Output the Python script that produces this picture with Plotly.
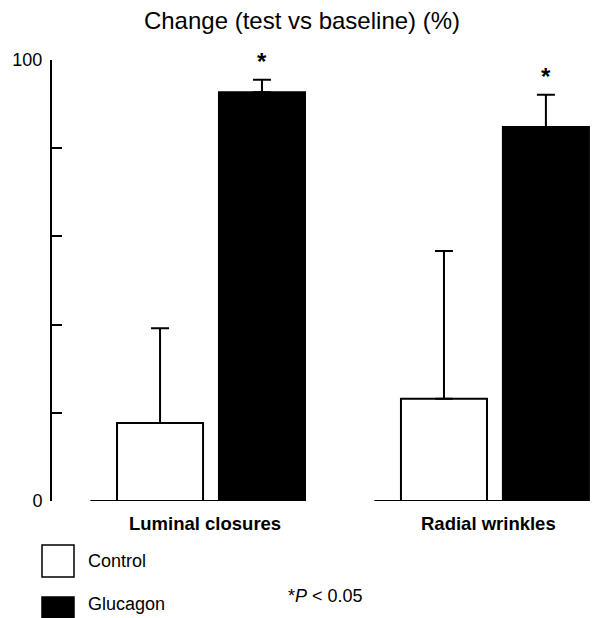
import plotly.graph_objects as go

categories = ["Luminal closures", "Radial wrinkles"]
control = [17.7, 23.2]
control_err = [21.5, 33.5]
glucagon = [92.7, 84.8]
glucagon_err = [2.8, 7.3]
yticks = [0, 20, 40, 60, 80, 100]
ytick_labels = ["0", "", "", "", "", "100"]

FONT = "Liberation Sans, Arial, sans-serif"
xpos = list(range(len(categories)))
BW = 0.303

# the page body has an 8px margin; the figure is sized/positioned to compensate
OFF = 8
W, H = 600 - OFF, 618 - OFF

fig = go.Figure()
fig.add_trace(go.Bar(
    x=xpos, y=control, name="Control", width=BW, offset=-0.331,
    marker=dict(color="white", line=dict(color="black", width=2)),
    error_y=dict(type="data", symmetric=False, array=control_err,
                 arrayminus=[0] * len(control), color="black", thickness=2, width=9),
    showlegend=False,
))
fig.add_trace(go.Bar(
    x=xpos, y=glucagon, name="Glucagon", width=BW, offset=0.028,
    marker=dict(color="black", line=dict(color="black", width=2)),
    error_y=dict(type="data", symmetric=False, array=glucagon_err,
                 arrayminus=[0] * len(glucagon), color="black", thickness=2, width=9),
    showlegend=False,
))

shapes = []
for i in xpos:
    shapes.append(dict(type="line", xref="x", yref="y", x0=i - 0.425, x1=i + 0.33,
                       y0=0, y1=0, line=dict(color="black", width=2)))

annotations = []
for i in xpos:
    annotations.append(dict(x=i + 0.028 + BW / 2, y=glucagon[i] + glucagon_err[i],
                            xref="x", yref="y", text="<b>*</b>", showarrow=False,
                            yanchor="bottom", yshift=3,
                            font=dict(family=FONT, size=24, color="black")))

# category labels
for i, c in enumerate(categories):
    annotations.append(dict(x=i - 0.022, y=0, xref="x", yref="y", text="<b>%s</b>" % c,
                            showarrow=False, yanchor="middle", yshift=-22,
                            font=dict(family=FONT, size=18.5, color="black")))

# legend (custom), positions expressed relative to the plot area
def py(p):
    return (501 - p) / 441.0

def px(p):
    return (p - 52) / 548.0

shapes.append(dict(type="rect", xref="paper", yref="paper", x0=px(42), x1=px(74),
                   y0=py(577), y1=py(545), fillcolor="white",
                   line=dict(color="black", width=1.5)))
shapes.append(dict(type="rect", xref="paper", yref="paper", x0=px(42), x1=px(74),
                   y0=py(622), y1=py(597), fillcolor="black",
                   line=dict(color="black", width=1.5)))
annotations.append(dict(x=px(86), y=py(561), xref="paper", yref="paper", text="Control",
                        showarrow=False, xanchor="left", yanchor="middle",
                        font=dict(family=FONT, size=18, color="black")))
annotations.append(dict(x=px(86), y=py(604), xref="paper", yref="paper", text="Glucagon",
                        showarrow=False, xanchor="left", yanchor="middle",
                        font=dict(family=FONT, size=18, color="black")))
annotations.append(dict(x=px(286), y=py(596), xref="paper", yref="paper",
                        text="*<i>P</i> < 0.05",
                        showarrow=False, xanchor="left", yanchor="middle",
                        font=dict(family=FONT, size=18, color="black")))

fig.update_layout(
    width=W, height=H,
    margin=dict(l=52 - OFF, r=0, t=60 - OFF, b=618 - 501, pad=0),
    plot_bgcolor="white", paper_bgcolor="white",
    title=dict(text="Change (test vs baseline) (%)", x=(302 - OFF) / W, xanchor="center",
               xref="container", y=1 - (21 - OFF) / H, yanchor="middle", yref="container",
               font=dict(family=FONT, size=24, color="black")),
    xaxis=dict(range=[-0.56, 1.37], showline=False, showgrid=False, zeroline=False,
               showticklabels=False, ticks=""),
    yaxis=dict(range=[0, 100], showline=True, linecolor="black", linewidth=2,
               showgrid=False, zeroline=False, ticks="inside", ticklen=10,
               tickwidth=2, tickcolor="black", tickvals=yticks, ticktext=ytick_labels,
               tickfont=dict(family=FONT, size=18, color="black"), ticklabelstandoff=4),
    shapes=shapes, annotations=annotations,
)
fig.write_html("out.html")
